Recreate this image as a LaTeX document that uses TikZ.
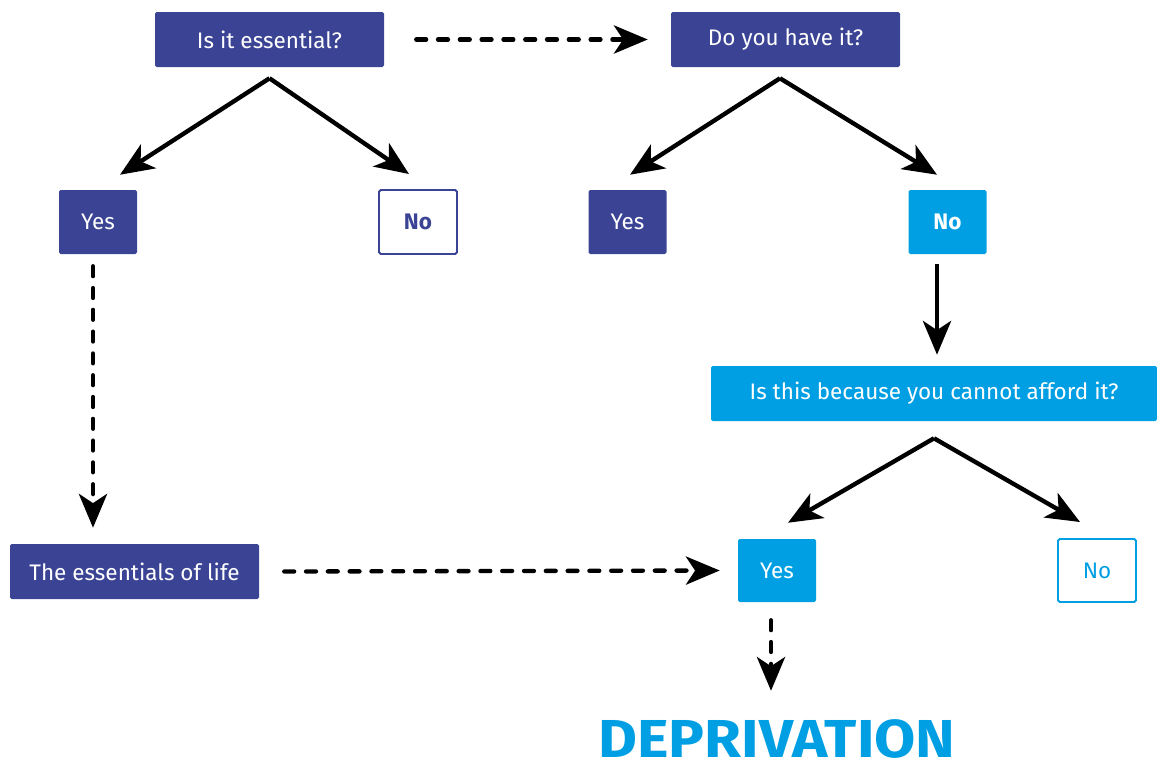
\documentclass[tikz,border=0pt]{standalone}
\usepackage{fontspec}
\setmainfont{Fira Sans}
\newfontfamily\widefont[FakeStretch=1.12]{Fira Sans}
\usetikzlibrary{arrows.meta,calc}

\definecolor{darkblue}{HTML}{3B4494}
\definecolor{lightblue}{HTML}{009FE3}

\begin{document}
\begin{tikzpicture}[x=0.025cm,y=0.025cm]

      % One unit is one pixel of the original picture
      \def\u{0.025cm}

      % Styles for the boxes: filled ones with white text, framed ones with coloured text
      \tikzstyle{box}=[rounded corners=1.2pt, inner sep=0pt, text=white, font=\fontsize{16}{18}\selectfont]
      \tikzstyle{darkbox}=[box, fill=darkblue]
      \tikzstyle{lightbox}=[box, fill=lightblue]
      \tikzstyle{darkframe}=[box, draw=darkblue, line width=1.4pt, text=darkblue]
      \tikzstyle{lightframe}=[box, draw=lightblue, line width=1.4pt, text=lightblue]
      \tikzstyle{wide}=[minimum width=229*\u, minimum height=55*\u]
      \tikzstyle{small}=[minimum width=78*\u, minimum height=64*\u]

      % Styles for the connectors
      \tikzstyle{arr}=[line width=3.1pt, -{Stealth[length=24pt, width=20pt, inset=6.5pt]}]
      \tikzstyle{dasharr}=[arr, line cap=round, dash pattern=on 7pt off 8.5pt]

      \useasboundingbox (0,0) rectangle (1157,-763);

      % First question and its answers
      \node [darkbox, wide] (essential) at (269.5,-39.5) {Is it essential?};
      \node [darkbox, small] (yesA) at (98,-222) {Yes};
      \node [darkframe, small] (noA) at (418,-222) {\bfseries No};

      % Second question and its answers
      \node [darkbox, wide] (have) at (785.5,-39.5) {Do you have it?};
      \node [darkbox, small] (yesB) at (627.5,-222) {Yes};
      \node [lightbox, small] (noB) at (947.5,-222) {\bfseries No};

      % Third question and its answers
      \node [lightbox, minimum width=446*\u, minimum height=55*\u] (afford) at (934,-393.5) {Is this because you cannot afford it?};
      \node [lightbox, small, minimum height=63*\u] (yesC) at (777,-570.5) {Yes};
      \node [lightframe, small, minimum height=63*\u] (noC) at (1097,-570.5) {No};

      % The list and the result
      \node [darkbox, minimum width=249*\u, minimum height=55*\u] (life) at (134.5,-571.5) {The essentials of life};
      \node [anchor=base, inner sep=0pt, text=lightblue, font=\widefont\bfseries\fontsize{38}{38}\selectfont] (deprivation) at (777,-757) {DEPRIVATION};

      % Solid arrows from each question to its answers
      \draw [arr] ($(essential.south)+(0,-11)$) -- ($(yesA.north)+(22,15)$);
      \draw [arr] ($(essential.south)+(0,-11)$) -- ($(noA.north)+(-9,15)$);
      \draw [arr] ($(have.south)+(-5.5,-11)$) -- ($(yesB.north)+(2.5,15)$);
      \draw [arr] ($(have.south)+(-5.5,-11)$) -- ($(noB.north)+(-10.5,15)$);
      \draw [arr] ($(noB.south)+(-10.5,-10)$) -- ($(afford.north)+(3,11)$);
      \draw [arr] ($(afford.south)+(0,-17)$) -- ($(yesC.north)+(11,16)$);
      \draw [arr] ($(afford.south)+(0,-17)$) -- ($(noC.north)+(-17,16)$);

      % Dashed arrows
      \draw [dasharr] ($(essential.east)+(32,0)$) -- ($(have.west)+(-23,0)$);
      \draw [dasharr] ($(yesA.south)+(-5,-12)$) -- ($(life.north)+(-41.5,16)$);
      \draw [dasharr] ($(life.east)+(25,0)$) -- ($(yesC.west)+(-18,0)$);
      \draw [dasharr] ($(yesC.south)+(-6,-18)$) -- ($(deprivation.north)+(-6,28)$);

\end{tikzpicture}
\end{document}
